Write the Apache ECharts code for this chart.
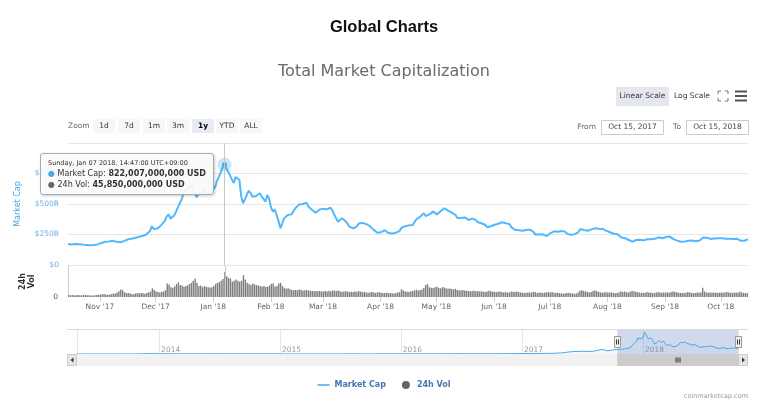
<!DOCTYPE html>
<html><head><meta charset="utf-8">
<script src="https://cdn.jsdelivr.net/npm/echarts@6/dist/echarts.min.js"></script>
<style>html,body{margin:0;padding:0;background:#fff}#c{width:768px;height:412px}</style>
</head><body><div id="c"></div>
<script>
// ---------- DATA ----------
// first daily sample: Oct 15 2017, 14:47 UTC+09:00
const START = Date.UTC(2017, 9, 15, 5, 47);
const DAY = 86400000;

// Total market capitalization, billions USD, one value per day (Oct 15 2017 .. Oct 15 2018)
const marketCapB = [
// Oct 15-31 2017
172,171,169,170,172,173,171,168,167,165,164,163,161,162,164,166,169,
// Nov
176,181,186,190,191,193,196,198,195,191,188,186,190,196,203,209,213,216,218,222,227,231,235,238,241,250,262,278,318,296,
// Dec
293,300,312,326,340,362,398,415,380,370,405,438,472,505,540,585,605,625,640,655,645,590,555,578,562,586,612,598,585,576,595,
// Jan 2018
610,640,690,725,762,800,822.007,790,765,752,700,672,722,710,697,560,506,540,575,609,590,560,547,565,580,588,560,540,519,575,540,
// Feb
470,437,455,451,360,301,340,383,395,410,400,415,430,465,480,495,505,500,505,511,480,465,451,440,429,440,455,465,
// Mar
460,462,457,466,470,445,410,380,355,365,383,375,360,340,314,318,300,295,315,340,355,345,348,336,330,318,309,290,275,265,272,
// Apr
268,272,285,273,262,254,258,268,265,270,278,305,314,318,330,325,322,328,350,375,383,395,410,424,402,410,415,425,437,430,
// May
415,410,440,450,465,458,445,437,430,425,410,385,377,385,396,390,375,369,372,380,383,370,350,355,342,335,328,310,301,318,325,
// Jun
330,328,338,345,350,348,342,345,335,309,300,288,281,285,280,281,283,286,287,290,287,268,250,246,252,254,250,245,238,250,
// Jul
262,273,276,274,272,275,278,279,272,255,252,248,250,253,254,270,295,290,287,283,281,285,292,300,301,297,298,300,296,293,280,
// Aug
272,268,265,256,255,252,243,226,222,219,212,205,198,191,200,205,211,206,208,203,207,211,210,212,213,215,222,227,225,219,224,
// Sep
230,234,233,238,212,205,200,196,191,194,192,193,198,199,201,200,195,199,201,205,225,227,224,218,213,214,218,219,220,219,
// Oct 1-15
220,218,215,217,216,214,213,215,216,214,199,198,199,200,211
];

// 24h volume, billions USD, one value per day
const volumeB = [
3.2,3.5,3.8,3.4,3.0,3.6,3.3,3.1,3.6,3.9,3.4,3.0,2.8,2.9,3.3,3.8,4.0,
4.5,5.0,5.5,4.8,4.2,4.6,5.2,6.5,6.0,8.5,10.5,14.0,12.5,9.0,7.0,7.5,6.5,5.5,5.0,6.5,7.0,6.8,7.5,7.0,6.0,7.5,8.5,10.0,16.0,13.0,
10.0,9.0,8.5,9.5,10.0,12.5,25.0,23.0,18.0,17.0,19.5,24.0,27.0,22.0,21.0,19.0,20.0,21.5,24.0,26.0,30.0,34.0,26.0,20.0,21.0,18.0,20.0,19.0,18.0,17.5,18.0,
20.0,24.0,26.0,27.0,30.0,33.0,45.85,38.0,35.0,34.0,28.0,30.0,32.0,30.0,28.0,30.0,40.0,32.0,26.0,24.0,22.0,25.0,23.0,22.0,21.0,20.0,19.0,20.0,18.5,19.0,21.0,
24.0,25.0,19.0,20.5,25.0,26.0,20.0,17.0,15.0,16.0,14.5,13.0,12.5,13.0,12.5,14.0,13.0,12.0,12.5,13.0,12.0,11.5,11.0,10.5,11.0,10.5,11.0,10.0,
10.5,11.0,10.0,11.5,10.5,12.0,11.5,11.0,12.0,10.5,9.5,10.0,10.5,10.0,9.0,9.5,9.0,10.0,9.5,11.0,10.0,9.0,9.5,8.5,8.0,8.5,9.0,8.5,7.5,8.0,9.0,
8.0,7.5,7.5,8.0,7.0,7.5,7.0,6.5,7.5,8.5,9.0,14.0,12.0,10.0,9.5,9.0,10.5,11.0,12.0,13.5,12.0,13.0,14.0,17.0,22.0,24.0,18.0,17.0,16.5,18.0,
19.0,17.0,16.0,18.0,17.5,16.0,15.0,15.5,14.5,14.0,15.0,13.0,12.5,12.0,13.0,12.0,11.5,11.0,10.5,11.0,11.5,10.5,11.0,10.0,10.5,9.5,9.0,10.0,11.5,10.5,10.0,
9.5,9.0,9.5,10.0,9.0,8.5,9.0,8.5,8.0,10.0,9.5,9.0,10.0,9.0,8.5,8.0,7.5,8.0,8.5,8.0,8.5,9.5,9.0,7.5,8.5,8.0,7.5,8.0,8.5,9.0,
8.5,9.0,8.0,7.5,8.0,7.0,6.5,6.0,7.0,7.5,8.0,7.0,6.5,6.0,6.5,8.5,11.5,12.5,11.0,10.0,9.5,8.5,9.0,11.0,12.0,10.5,9.5,8.5,8.0,8.5,9.0,
8.5,8.0,8.5,7.5,7.0,8.0,8.5,10.5,9.0,10.0,9.0,8.0,9.5,11.0,10.5,9.5,9.0,8.0,7.5,8.0,7.5,9.0,8.5,8.0,7.5,7.0,8.5,9.0,8.5,8.0,8.5,
8.0,8.5,8.0,9.0,10.0,9.5,8.5,8.0,7.5,7.5,8.0,7.5,9.0,8.5,7.5,7.0,7.5,8.5,8.0,8.5,17.0,10.0,8.5,8.0,8.5,8.0,8.5,8.0,7.5,8.0,
8.5,8.0,8.5,9.0,8.5,8.0,7.5,8.0,8.5,8.0,9.5,8.5,7.5,7.0,7.5
];

// earlier history (navigator only), billions USD
const historyDates = ['2013-04-28','2013-06-01','2013-07-01','2013-08-01','2013-09-01','2013-10-01','2013-11-01','2013-12-01',
'2014-01-01','2014-02-01','2014-03-01','2014-04-01','2014-05-01','2014-06-01','2014-07-01','2014-08-01','2014-09-01','2014-10-01','2014-11-01','2014-12-01',
'2015-01-01','2015-02-01','2015-03-01','2015-04-01','2015-05-01','2015-06-01','2015-07-01','2015-08-01','2015-09-01','2015-10-01','2015-11-01','2015-12-01',
'2016-01-01','2016-02-01','2016-03-01','2016-04-01','2016-05-01','2016-06-01','2016-07-01','2016-08-01','2016-09-01','2016-10-01','2016-11-01','2016-12-01',
'2017-01-01','2017-02-01','2017-03-01','2017-04-01','2017-05-01','2017-06-01','2017-07-01','2017-08-01','2017-09-01','2017-09-15','2017-10-01'];
const historyCapB = [1.5,1.3,1.0,1.2,1.6,1.6,2.6,13.0,
9.5,11.0,8.5,6.5,6.5,8.5,8.5,7.5,6.5,5.5,4.8,5.5,
4.5,3.6,3.9,3.5,3.5,3.5,3.8,4.6,3.8,3.9,5.3,5.6,
7.0,6.6,7.2,7.4,7.7,9.6,11.0,9.7,9.4,10.0,11.2,12.2,
17.7,18.5,21.0,25.0,40.0,87.0,100.0,95.0,170.0,115.0,145.0];

const monthNames = ['Jan','Feb','Mar','Apr','May','Jun','Jul','Aug','Sep','Oct','Nov','Dec'];
const dayNames = ['Sunday','Monday','Tuesday','Wednesday','Thursday','Friday','Saturday'];
const rangeButtons = ['1d','7d','1m','3m','1y','YTD','ALL'];
const selectedRange = '1y';
const capAxis = {min: 0, max: 1000, interval: 250};
const volAxisMax = 57;
const navAxisMax = 880;

if (volumeB.length !== marketCapB.length) throw new Error('length mismatch ' + volumeB.length + ' vs ' + marketCapB.length);

// ---------- BUILD ----------
const times = marketCapB.map((v, i) => START + i * DAY);
const capData = times.map((t, i) => [t, marketCapB[i]]);
const volData = times.map((t, i) => [t, volumeB[i]]);
const navData = historyDates.map((d, i) => [Date.parse(d + 'T00:00:00Z'), historyCapB[i]]).concat(capData);
const xMin = times[0], xMax = times[times.length - 1];
const navMin = navData[0][0];

const LINE = '#4aa8e6';
const FONT = 'DejaVu Sans';
const pad = n => (n < 10 ? '0' : '') + n;
const usd = v => Math.round(v * 1e9).toLocaleString('en-US') + ' USD';
const shortDate = t => { const d = new Date(t); return monthNames[d.getUTCMonth()] + ' ' + d.getUTCDate() + ', ' + d.getUTCFullYear(); };
const monthLabel = v => { const d = new Date(v); return monthNames[d.getUTCMonth()] + " '" + String(d.getUTCFullYear()).slice(2); };

const chart = echarts.init(document.getElementById('c'), null, {renderer: 'canvas'});

const option = {
  animation: false,
  textStyle: {fontFamily: FONT},
  title: [
    {text: 'Global Charts', left: 'center', top: 19, padding: 0,
     textStyle: {fontFamily: 'Liberation Sans', fontWeight: 'bold', fontSize: 16.5, color: '#111'}},
    {text: 'Total Market Capitalization', left: 'center', top: 64, padding: 0,
     textStyle: {fontFamily: FONT, fontWeight: 'normal', fontSize: 16, color: '#6a6a6a'}}
  ],
  legend: {
    top: 376, left: 'center', itemWidth: 12, itemHeight: 8, itemGap: 16,
    textStyle: {color: '#4176b7', fontWeight: 'bold', fontSize: 8, fontFamily: FONT},
    data: [
      {name: 'Market Cap', icon: 'path://M0,0 L0.01,0 M0,3.2 L12,3.2 L12,4.8 L0,4.8 Z M12,8 L11.99,8', itemStyle: {color: LINE}},
      {name: '24h Vol', icon: 'circle', itemStyle: {color: '#666'}}
    ]
  },
  axisPointer: {link: [{xAxisIndex: [0, 1]}]},
  tooltip: {
    trigger: 'axis', triggerOn: 'none', alwaysShowContent: true,
    position: [40, 153], transitionDuration: 0,
    backgroundColor: 'rgba(250,250,250,0.92)', borderColor: '#aaa', borderWidth: 1, padding: [4, 7],
    extraCssText: 'box-shadow:1px 1px 3px rgba(0,0,0,0.2);border-radius:3px;',
    textStyle: {fontFamily: FONT, color: '#333'},
    axisPointer: {type: 'line', lineStyle: {color: '#c8c8c8', width: 1, type: 'solid'}, label: {show: false}},
    formatter: function (params) {
      const idx = params[0].dataIndex;
      const d = new Date(times[idx] + 9 * 3600000);
      const head = dayNames[d.getUTCDay()] + ', ' + monthNames[d.getUTCMonth()] + ' ' + pad(d.getUTCDate()) + ' ' +
        d.getUTCFullYear() + ', ' + pad(d.getUTCHours()) + ':' + pad(d.getUTCMinutes()) + ':00 UTC+09:00';
      return '<div style="font-size:6.5px;line-height:10px;color:#333">' + head + '</div>' +
        '<div style="font-size:8px;line-height:11px;color:#333"><span style="color:' + LINE + '">&#9679;</span> Market Cap: <b>' + usd(marketCapB[idx]) + '</b></div>' +
        '<div style="font-size:8px;line-height:11px;color:#333"><span style="color:#666">&#9679;</span> 24h Vol: <b>' + usd(volumeB[idx]) + '</b></div>';
    }
  },
  grid: [
    {left: 68, top: 143, width: 680, height: 122},
    {left: 68, top: 266, width: 680, height: 31},
    {left: 77, top: 330, width: 661, height: 24}
  ],
  xAxis: [
    {type: 'time', gridIndex: 0, min: xMin, max: xMax, splitNumber: 12,
     axisLine: {show: false}, axisTick: {show: false}, axisLabel: {show: false}, splitLine: {show: false}},
    {type: 'time', gridIndex: 1, min: xMin, max: xMax, splitNumber: 12,
     axisLine: {show: false}, axisTick: {show: true, length: 5, lineStyle: {color: '#ccd6eb'}},
     axisLabel: {formatter: monthLabel, fontSize: 7.5, color: '#666', margin: 6, fontFamily: FONT},
     splitLine: {show: false}},
    {type: 'time', gridIndex: 2, min: navMin, max: xMax, splitNumber: 5, minInterval: 365 * DAY,
     axisLine: {show: false}, axisTick: {show: false},
     splitLine: {show: true, lineStyle: {color: '#e6e6e6'}},
     axisLabel: {inside: true, align: 'left', verticalAlign: 'bottom', margin: 0, padding: [0, 0, 0, 2],
                 fontSize: 7.5, color: '#999', fontFamily: FONT,
                 formatter: v => String(new Date(v).getUTCFullYear())}}
  ],
  yAxis: [
    {type: 'value', gridIndex: 0, min: capAxis.min, max: capAxis.max, interval: capAxis.interval,
     name: 'Market Cap', nameLocation: 'middle', nameGap: 46, nameRotate: 90,
     nameTextStyle: {color: LINE, fontSize: 8, fontFamily: FONT},
     axisLine: {show: false}, axisTick: {show: false},
     splitLine: {lineStyle: {color: '#e6e6e6'}},
     axisLabel: {color: '#6aaee8', fontSize: 7.5, margin: 9, showMaxLabel: false, padding: [0, 0, 6, 0],
                 formatter: v => '$' + v + (v ? 'B' : '')}},
    {type: 'value', gridIndex: 1, min: 0, max: volAxisMax, interval: volAxisMax,
     name: '24h\nVol', nameLocation: 'middle', nameGap: 32, nameRotate: 90,
     nameTextStyle: {color: '#333', fontWeight: 'bold', fontSize: 8, lineHeight: 9, fontFamily: FONT},
     axisLine: {show: true, lineStyle: {color: '#ccc'}}, axisTick: {show: false}, splitLine: {show: false},
     axisLabel: {color: '#555', fontSize: 7.5, margin: 10, padding: [0, 0, 8, 0], formatter: v => (v === 0 ? '0' : '')}},
    {type: 'value', gridIndex: 2, min: 0, max: navAxisMax, show: false, splitLine: {show: false}}
  ],
  series: [
    {name: 'Market Cap', type: 'line', xAxisIndex: 0, yAxisIndex: 0, data: capData,
     symbol: 'none', showSymbol: false, lineStyle: {width: 2, color: LINE}, itemStyle: {color: LINE}, z: 3,
     markPoint: {symbol: 'circle', label: {show: false}, silent: true,
       data: [{type: 'max', symbolSize: 14, itemStyle: {color: 'rgba(74,168,230,0.3)'}},
              {type: 'max', symbolSize: 5, itemStyle: {color: LINE}}]}},
    {name: '24h Vol', type: 'bar', xAxisIndex: 1, yAxisIndex: 1, data: volData,
     barWidth: 1.4, itemStyle: {color: '#7e7e7e'}},
    {name: 'Navigator', type: 'line', xAxisIndex: 2, yAxisIndex: 2, data: navData,
     symbol: 'none', silent: true, tooltip: {show: false},
     lineStyle: {width: 1, color: LINE}, areaStyle: {color: 'rgba(74,168,230,0.08)'},
     markArea: {silent: true, itemStyle: {color: 'rgba(102,133,194,0.3)'},
       data: [[{xAxis: xMin}, {xAxis: xMax}]]}}
  ]
};
chart.setOption(option);

// ---------- decorations (range selector, navigator handles, scrollbar) ----------
const g = [];
function rect(x, y, w, h, fill, stroke) {
  g.push({type: 'rect', z: 100, silent: true, shape: {x, y, width: w, height: h},
          style: {fill: fill, stroke: stroke || null, lineWidth: stroke ? 1 : 0}});
}
function text(x, y, t, opt) {
  g.push({type: 'text', z: 100, silent: true, x, y,
          style: Object.assign({text: t, fill: '#333', fontSize: 7.5, fontFamily: FONT, align: 'left', verticalAlign: 'middle'}, opt || {})});
}
function line(x1, y1, x2, y2, stroke, w) {
  g.push({type: 'line', z: 100, silent: true, shape: {x1, y1, x2, y2}, style: {stroke: stroke, lineWidth: w || 1}});
}
function tri(points, fill) {
  g.push({type: 'polygon', z: 100, silent: true, shape: {points}, style: {fill}});
}

// range selector
text(68, 126.5, 'Zoom', {fill: '#666'});
const btnX = [93, 118, 143, 167, 192, 216, 240];
rangeButtons.forEach((b, i) => {
  const sel = b === selectedRange;
  rect(btnX[i], 119, 22, 14, sel ? '#e6ebf5' : '#f7f7f7');
  text(btnX[i] + 11, 126.5, b, {align: 'center', fontWeight: sel ? 'bold' : 'normal', fill: sel ? '#000' : '#333'});
});
text(596, 127, 'From', {align: 'right', fill: '#666'});
rect(601.5, 120.5, 62, 14, '#fff', '#ccc');
text(632.5, 127.5, shortDate(xMin), {align: 'center', fill: '#444'});
text(681, 127, 'To', {align: 'right', fill: '#666'});
rect(686.5, 120.5, 62, 14, '#fff', '#ccc');
text(717.5, 127.5, shortDate(xMax), {align: 'center', fill: '#444'});

// scale buttons & icons
rect(616, 87, 53, 19, '#e4e8ee');
text(642.5, 96.5, 'Linear Scale', {align: 'center'});
text(674, 96.5, 'Log Scale', {});
[[718, 91, 1, 1], [728, 91, -1, 1], [718, 101, 1, -1], [728, 101, -1, -1]].forEach(c => {
  line(c[0], c[1], c[0] + 3 * c[2], c[1], '#777', 1);
  line(c[0], c[1], c[0], c[1] + 3 * c[3], '#777', 1);
});
[91.5, 96, 100.5].forEach(y => line(735, y, 747, y, '#555', 2));

// credits
text(748, 396, 'coinmarketcap.com', {align: 'right', fill: '#999', fontSize: 6.5});

// navigator outline, handles, scrollbar
const p0 = chart.convertToPixel({xAxisIndex: 2}, xMin);
const p1 = chart.convertToPixel({xAxisIndex: 2}, xMax);
line(67, 329.5, 748, 329.5, '#d9d9d9', 1);
rect(67, 354, 681, 12, '#f2f2f2');
rect(p0, 354, p1 - p0, 12, '#cccccc');
[-2, 0, 2].forEach(o => line((p0 + p1) / 2 + o + 0.5, 357.5, (p0 + p1) / 2 + o + 0.5, 362.5, '#333', 1));
rect(67.5, 354.5, 9, 11, '#e6e6e6', '#ccc');
tri([[73.5, 357.5], [73.5, 362.5], [70.5, 360]], '#333');
rect(738.5, 354.5, 9, 11, '#e6e6e6', '#ccc');
tri([[742, 357.5], [742, 362.5], [745, 360]], '#333');
[p0, p1].forEach(px => {
  rect(Math.round(px) - 2.5, 336.5, 6, 11, '#f2f2f2', '#999');
  line(Math.round(px) - 0.5, 339.5, Math.round(px) - 0.5, 344.5, '#333', 1);
  line(Math.round(px) + 1.5, 339.5, Math.round(px) + 1.5, 344.5, '#333', 1);
});
chart.setOption({graphic: g});

// show the tooltip at the market-cap peak
const peakIdx = marketCapB.indexOf(Math.max.apply(null, marketCapB));
chart.dispatchAction({type: 'showTip', seriesIndex: 0, dataIndex: peakIdx});
</script>
</body></html>
